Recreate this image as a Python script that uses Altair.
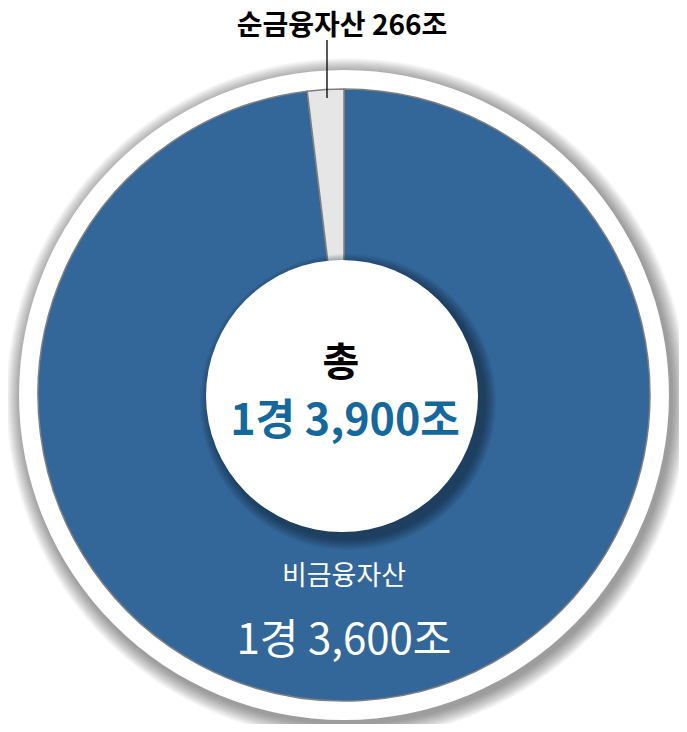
import math
import altair as alt
import pandas as pd

# ---- data ----
categories = ["비금융자산", "순금융자산"]
values = [13600, 266]
value_labels = ["1경 3,600조", "266조"]
total_title = "총"
total_label = "1경 3,900조"
colors = ["#336699", "#e6e6e6"]

W, H = 671, 716
CX, CY = 336, 387          # pie centre in plot coordinates
R_PIE, R_RING, R_HOLE = 306, 325, 136
FONT = "Noto Sans CJK KR"
TWO_PI = 2 * math.pi

one = pd.DataFrame({"k": [0]})


def disc(r, color, opacity=1.0, cx=CX, cy=CY, **kw):
    return alt.Chart(one).mark_arc(
        radius=r, theta=0, theta2=TWO_PI, color=color, opacity=opacity, **kw
    ).encode(x=alt.value(cx), y=alt.value(cy))


layers = []
# outer ring soft shadow
for i in range(16, 0, -1):
    layers.append(disc(R_RING + i, "#000000", 0.026, cx=CX + 3, cy=CY + 4))
# white ring
layers.append(disc(R_RING, "#ffffff"))

# pie
pie_df = pd.DataFrame({"category": categories, "value": values, "order": [0, 1]})
pie = alt.Chart(pie_df).mark_arc(
    radius=R_PIE, stroke="#7f7f7f", strokeWidth=1.5
).encode(
    theta=alt.Theta("value:Q", stack=True),
    color=alt.Color("category:N", scale=alt.Scale(domain=categories, range=colors), legend=None),
    order=alt.Order("order:Q"),
    x=alt.value(CX),
    y=alt.value(CY),
)
layers.append(pie)

# inner circle shadow
for i in range(12, 0, -1):
    layers.append(disc(R_HOLE + i, "#0b2238", 0.06, cx=CX + 4, cy=CY + 7))
layers.append(disc(R_HOLE, "#ffffff", cx=CX - 2, cy=CY + 1))

# leader line for the small slice
leader = alt.Chart(one).mark_rule(color="#000000", strokeWidth=1.3).encode(
    x=alt.value(319), y=alt.value(32), y2=alt.value(90)
)
layers.append(leader)

# texts
small_label = pd.DataFrame({"t": [categories[1] + " " + value_labels[1]]})
layers.append(
    alt.Chart(small_label).mark_text(
        font=FONT, fontSize=28, fontWeight="bold", color="#000000", baseline="alphabetic", align="center"
    ).encode(text="t:N", x=alt.value(334), y=alt.value(27))
)

center_df = pd.DataFrame({"t": [total_title]})
layers.append(
    alt.Chart(center_df).mark_text(
        font=FONT, fontSize=40, fontWeight="bold", color="#000000", baseline="middle", align="center"
    ).encode(text="t:N", x=alt.value(333), y=alt.value(356))
)
total_df = pd.DataFrame({"t": [total_label]})
layers.append(
    alt.Chart(total_df).mark_text(
        font=FONT, fontSize=43, fontWeight="bold", color="#15689c", baseline="middle", align="center"
    ).encode(text="t:N", x=alt.value(337), y=alt.value(414))
)

big_name = pd.DataFrame({"t": [categories[0]]})
layers.append(
    alt.Chart(big_name).mark_text(
        font=FONT, fontSize=27, color="#ffffff", baseline="middle", align="center"
    ).encode(text="t:N", x=alt.value(336), y=alt.value(569))
)
big_val = pd.DataFrame({"t": [value_labels[0]]})
layers.append(
    alt.Chart(big_val).mark_text(
        font=FONT, fontSize=42, color="#ffffff", baseline="middle", align="center"
    ).encode(text="t:N", x=alt.value(336), y=alt.value(633))
)

chart = alt.layer(*layers).properties(
    width=W, height=H, autosize=alt.AutoSizeParams(type="none"), padding=0
).configure_view(stroke=None)

chart.save("out.html", embed_options={"renderer": "svg", "actions": False})
